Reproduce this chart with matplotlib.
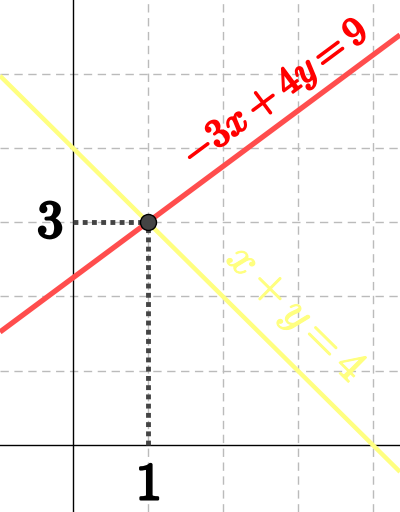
import matplotlib
matplotlib.use("Agg")
import matplotlib.pyplot as plt
import matplotlib.patheffects as pe
import numpy as np

plt.rcParams['mathtext.fontset'] = 'cm'

# lines: a*x + b*y = c
red_eq = (-3, 4, 9)
yellow_eq = (1, 1, 4)
point = (1, 3)
x_ticks = [1, 2, 3, 4]
y_ticks = [1, 2, 3, 4, 5]
xmin, xmax = -0.97, 4.36
ymin, ymax = -0.9, 5.99

fig = plt.figure(figsize=(4, 5.12), dpi=100)
ax = fig.add_axes([0, 0, 1, 1])
ax.set_xlim(xmin, xmax)
ax.set_ylim(ymin, ymax)
for s in ax.spines.values():
    s.set_visible(False)
ax.set_xticks([])
ax.set_yticks([])

# grid
for gx in x_ticks:
    ax.axvline(gx, color='#bbbbbb', lw=1, ls=(0, (6, 4)), zorder=0)
for gy in y_ticks:
    ax.axhline(gy, color='#bbbbbb', lw=1, ls=(0, (6, 4)), zorder=0)

# axes
ax.axhline(0, color='black', lw=1, zorder=1)
ax.axvline(0, color='black', lw=1, zorder=1)

xs = np.array([xmin, xmax])
a, b, c = red_eq
ax.plot(xs, (c - a * xs) / b, color='#ff4d4d', lw=3.8, zorder=3, solid_capstyle='butt')
a, b, c = yellow_eq
ax.plot(xs, (c - a * xs) / b, color='#ffff80', lw=3.2, zorder=2, solid_capstyle='butt')

# dotted guides to the point
px, py = point
ax.plot([0, px], [py, py], color='#444444', lw=3.5, ls=(0, (1, 0.9)), zorder=4)
ax.plot([px, px], [0, py], color='#444444', lw=3.5, ls=(0, (1, 0.9)), zorder=4)
ax.plot(px, py, 'o', ms=11.5, mfc='#444444', mec='black', mew=1, zorder=5)

def bold(col, w=1.2):
    return [pe.withStroke(linewidth=w, foreground=col)]

ax.text(-0.13, py, r'$3$', fontsize=38, ha='right', va='center',
        path_effects=bold('black', 1.8))
ax.text(px, -0.18, r'$1$', fontsize=38, ha='center', va='top',
        path_effects=bold('black', 1.8))

ax.text(2.70, 4.73, r'$-3x+4y=9$', fontsize=28.5, color='#ff0000',
        rotation=36.6, ha='center', va='center', rotation_mode='anchor',
        path_effects=bold('#ff0000', 1.4))
ax.text(2.96, 1.76, r'$x+y=4$', fontsize=33, color='#ffff80',
        rotation=-44.7, ha='center', va='center', rotation_mode='anchor',
        path_effects=bold('#ffff80', 0.8))

fig.savefig('out.png', dpi=100)
